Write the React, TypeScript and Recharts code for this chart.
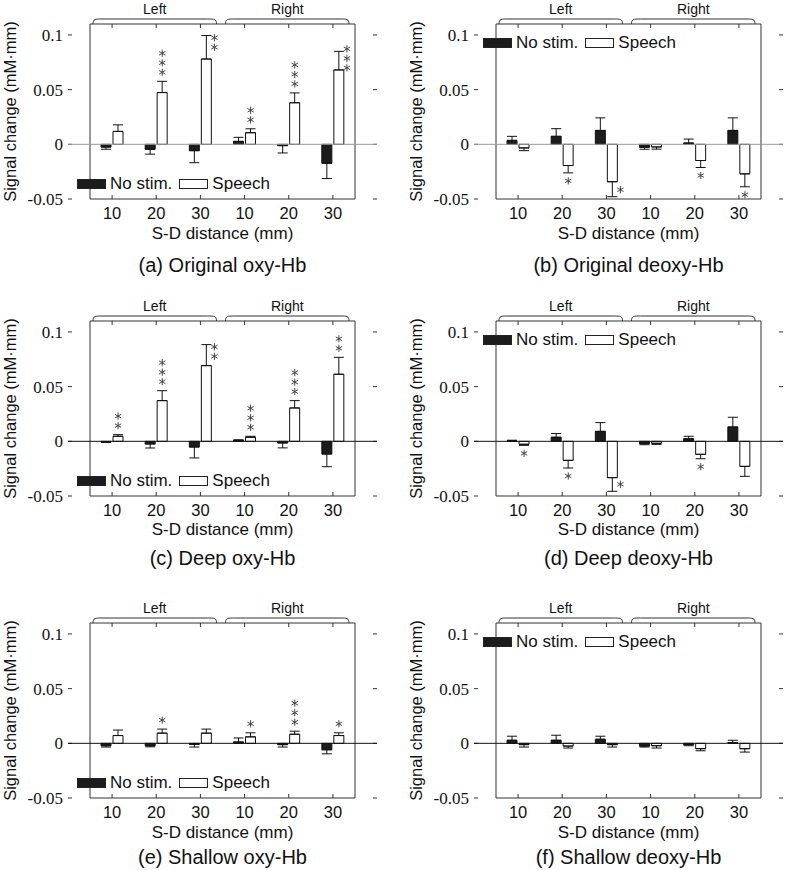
import React from 'react';
import {
  ComposedChart,
  Bar,
  ErrorBar,
  Scatter,
  XAxis,
  YAxis,
  ReferenceLine,
  ReferenceArea,
  Legend,
} from 'recharts';

const SANS = '"Liberation Sans", Arial, sans-serif';
const SERIF = '"Liberation Serif", "Times New Roman", serif';

// categories
const sides = ['Left', 'Right'];
const distances = [10, 20, 30];
const categoryKeys = sides.flatMap((s) => distances.map((d) => `${s}-${d}`));
const seriesNames = ['No stim.', 'Speech'];
const yTicks = [-0.05, 0, 0.05, 0.1];
const yDomain: [number, number] = [-0.05, 0.11];

// (a) Original oxy-Hb
const origOxyNoStim = [-0.0025, -0.0045, -0.0058, 0.0027, -0.0012, -0.0173];
const origOxyNoStimErr = [0.002, 0.0045, 0.011, 0.0037, 0.0067, 0.014];
const origOxySpeech = [0.0118, 0.0473, 0.078, 0.0106, 0.038, 0.068];
const origOxySpeechErr = [0.006, 0.0103, 0.0215, 0.0036, 0.009, 0.017];
const origOxyStars = [0, 3, 2, 2, 3, 3];
const origOxyBeside = [false, false, true, false, false, true];

// (b) Original deoxy-Hb
const origDeoxyNoStim = [0.0036, 0.0073, 0.0127, -0.0027, 0.0012, 0.0127];
const origDeoxyNoStimErr = [0.0037, 0.007, 0.0115, 0.0018, 0.0036, 0.0115];
const origDeoxySpeech = [-0.0033, -0.0194, -0.0342, -0.0024, -0.0148, -0.027];
const origDeoxySpeechErr = [0.0025, 0.0067, 0.0137, 0.002, 0.0064, 0.0118];
const origDeoxyStars = [0, 1, 1, 0, 1, 1];
const origDeoxyBeside = [false, false, true, false, false, false];

// (c) Deep oxy-Hb
const deepOxyNoStim = [-0.0005, -0.0024, -0.0052, 0.0009, -0.0015, -0.0116];
const deepOxyNoStimErr = [0.0005, 0.0037, 0.01, 0.0005, 0.0045, 0.0116];
const deepOxySpeech = [0.0046, 0.0372, 0.0692, 0.0037, 0.0305, 0.0613];
const deepOxySpeechErr = [0.0015, 0.0091, 0.0192, 0.0009, 0.0067, 0.0155];
const deepOxyStars = [2, 3, 2, 3, 3, 2];
const deepOxyBeside = [false, false, true, false, false, false];

// (d) Deep deoxy-Hb
const deepDeoxyNoStim = [0.0005, 0.0037, 0.0091, -0.0021, 0.0024, 0.0131];
const deepDeoxyNoStimErr = [0.0005, 0.0034, 0.008, 0.001, 0.0022, 0.0089];
const deepDeoxySpeech = [-0.0027, -0.0174, -0.0332, -0.0018, -0.0119, -0.0229];
const deepDeoxySpeechErr = [0.001, 0.007, 0.0125, 0.001, 0.004, 0.0091];
const deepDeoxyStars = [1, 1, 1, 0, 1, 0];
const deepDeoxyBeside = [false, false, true, false, false, false];

// (e) Shallow oxy-Hb
const shallowOxyNoStim = [-0.0022, -0.0022, -0.0009, 0.0012, -0.0012, -0.0059];
const shallowOxyNoStimErr = [0.0012, 0.001, 0.0025, 0.0037, 0.0022, 0.0037];
const shallowOxySpeech = [0.0071, 0.0093, 0.0093, 0.0059, 0.0083, 0.0071];
const shallowOxySpeechErr = [0.005, 0.0037, 0.0037, 0.0037, 0.0028, 0.0025];
const shallowOxyStars = [0, 1, 0, 1, 3, 1];
const shallowOxyBeside = [false, false, false, false, false, false];

// (f) Shallow deoxy-Hb
const shallowDeoxyNoStim = [0.0028, 0.0028, 0.0037, -0.0025, -0.0012, 0.0006];
const shallowDeoxyNoStimErr = [0.0037, 0.0046, 0.0028, 0.0009, 0.001, 0.0022];
const shallowDeoxySpeech = [-0.0012, -0.0025, -0.0012, -0.0022, -0.0049, -0.0049];
const shallowDeoxySpeechErr = [0.0022, 0.0018, 0.0022, 0.0021, 0.0019, 0.0031];
const shallowDeoxyStars = [0, 0, 0, 0, 0, 0];
const shallowDeoxyBeside = [false, false, false, false, false, false];

const panels = [
  { caption: '(a) Original oxy-Hb', noStim: origOxyNoStim, noStimErr: origOxyNoStimErr, speech: origOxySpeech, speechErr: origOxySpeechErr, stars: origOxyStars, beside: origOxyBeside, zero: '#9a9a9a', legendBottom: true },
  { caption: '(b) Original deoxy-Hb', noStim: origDeoxyNoStim, noStimErr: origDeoxyNoStimErr, speech: origDeoxySpeech, speechErr: origDeoxySpeechErr, stars: origDeoxyStars, beside: origDeoxyBeside, zero: '#9a9a9a', legendBottom: false },
  { caption: '(c) Deep oxy-Hb', noStim: deepOxyNoStim, noStimErr: deepOxyNoStimErr, speech: deepOxySpeech, speechErr: deepOxySpeechErr, stars: deepOxyStars, beside: deepOxyBeside, zero: '#111', legendBottom: true },
  { caption: '(d) Deep deoxy-Hb', noStim: deepDeoxyNoStim, noStimErr: deepDeoxyNoStimErr, speech: deepDeoxySpeech, speechErr: deepDeoxySpeechErr, stars: deepDeoxyStars, beside: deepDeoxyBeside, zero: '#111', legendBottom: false },
  { caption: '(e) Shallow oxy-Hb', noStim: shallowOxyNoStim, noStimErr: shallowOxyNoStimErr, speech: shallowOxySpeech, speechErr: shallowOxySpeechErr, stars: shallowOxyStars, beside: shallowOxyBeside, zero: '#111', legendBottom: true },
  { caption: '(f) Shallow deoxy-Hb', noStim: shallowDeoxyNoStim, noStimErr: shallowDeoxyNoStimErr, speech: shallowDeoxySpeech, speechErr: shallowDeoxySpeechErr, stars: shallowDeoxyStars, beside: shallowDeoxyBeside, zero: '#111', legendBottom: false },
];

const rowTops = [24, 321, 623]; // plot top of each row
const titleOffsets = [210, 209, 210]; // axis title centre below plot top
const captionOffsets = [241, 237, 234]; // caption centre below plot top
const colLefts = [0, 406];
const PLOT_TOP = 24;
const PLOT_H = 175;
const CHART_H = 297;
const Y_AXIS_W = 68;

const oneSided = (v: number, e: number) => (v >= 0 ? [0, e] : [e, 0]);

function buildRows(p) {
  return categoryKeys.map((key, i) => ({
    key,
    noStim: p.noStim[i],
    speech: p.speech[i],
    noStimErr: oneSided(p.noStim[i], p.noStimErr[i]),
    speechErr: oneSided(p.speech[i], p.speechErr[i]),
    tip: p.speech[i] + Math.sign(p.speech[i]) * p.speechErr[i],
    stars: p.stars[i],
    beside: p.beside[i],
    dir: p.speech[i] >= 0 ? 1 : -1,
  }));
}

const Asterisk = ({ x, y }) => {
  const r = 3.6;
  return (
    <g stroke="#444" strokeWidth={1}>
      {[90, 30, -30].map((a) => {
        const dx = r * Math.cos((a * Math.PI) / 180);
        const dy = r * Math.sin((a * Math.PI) / 180);
        return <line key={a} x1={x - dx} y1={y - dy} x2={x + dx} y2={y + dy} />;
      })}
    </g>
  );
};

const StarStack = (props) => {
  const { cx, cy, payload } = props;
  const n = payload?.stars || 0;
  if (!n || cx == null || cy == null) return <g />;
  const up = payload.dir > 0;
  const step = 9.5;
  const pts: [number, number][] = [];
  if (payload.beside) {
    const mid = cy + (up ? 7 : -7);
    for (let k = 0; k < n; k++) pts.push([cx + 14, mid + (k - (n - 1) / 2) * step]);
  } else {
    for (let k = 0; k < n; k++) pts.push([cx + 6, up ? cy - 9 - k * step : cy + 8 + k * step]);
  }
  return (
    <g>
      {pts.map(([x, y], k) => (
        <Asterisk key={k} x={x} y={y} />
      ))}
    </g>
  );
};

const Brace = ({ x, y, width, label }) => {
  const x0 = x + 3;
  const x1 = x + width - 6;
  const h = 5;
  const r = 9;
  const d = `M${x0},${y} C${x0},${y - h} ${x0 + 2},${y - h} ${x0 + r},${y - h} L${x1 - r},${y - h} C${x1 - 2},${y - h} ${x1},${y - h} ${x1},${y}`;
  return (
    <g>
      <path d={d} fill="none" stroke="#333" strokeWidth={1} />
      <text x={(x0 + x1) / 2} y={y - 10} textAnchor="middle" fontFamily={SANS} fontSize={14} fill="#111">
        {label}
      </text>
    </g>
  );
};

const YTickMarks = ({ x1, x2, y1 }) => {
  const l = Math.min(x1, x2);
  const r = Math.max(x1, x2);
  return (
    <g stroke="#333" strokeWidth={1}>
      <line x1={l} x2={l + 4} y1={y1} y2={y1} />
      <line x1={r - 4} x2={r} y1={y1} y2={y1} />
    </g>
  );
};

const XTickMarks = ({ x1, y1, y2 }) => {
  const t = Math.min(y1, y2);
  const b = Math.max(y1, y2);
  return (
    <g stroke="#333" strokeWidth={1}>
      <line x1={x1} x2={x1} y1={t} y2={t + 4} />
      <line x1={x1} x2={x1} y1={b - 4} y2={b} />
    </g>
  );
};

const LegendContent = ({ payload }) => (
  <div style={{ display: 'flex', alignItems: 'center', fontFamily: SANS, fontSize: 17, lineHeight: '20px', color: '#111', whiteSpace: 'nowrap' }}>
    {(payload || [])
      .filter((entry) => seriesNames.includes(entry.value))
      .map((entry, i) => (
        <React.Fragment key={i}>
          <span
            style={{
              display: 'inline-block',
              width: 29,
              height: 10,
              boxSizing: 'border-box',
              background: entry.color,
              border: '1px solid #222',
              marginRight: 4,
            }}
          />
          <span style={{ marginRight: 7 }}>{entry.value}</span>
        </React.Fragment>
      ))}
  </div>
);

function Panel({ p, index }) {
  const row = Math.floor(index / 2);
  const col = index % 2;
  const width = col === 0 ? 395 : 381;
  const marginRight = width - Y_AXIS_W - 309;
  const data = buildRows(p);
  const legendTop = p.legendBottom ? PLOT_TOP + PLOT_H - 15 - 10 : PLOT_TOP + 19 - 10;

  return (
    <div style={{ position: 'absolute', left: colLefts[col], top: rowTops[row] - PLOT_TOP, width, height: CHART_H }}>
      <ComposedChart
        width={width}
        height={CHART_H}
        data={data}
        margin={{ top: PLOT_TOP, right: marginRight, bottom: CHART_H - PLOT_TOP - PLOT_H - 30, left: 0 }}
        barSize={10}
        barGap={2}
      >
        <XAxis
          dataKey="key"
          interval={0}
          height={30}
          padding={{ left: 22, right: 22 }}
          tickLine={false}
          axisLine={false}
          tickSize={0}
          tickMargin={8}
          tickFormatter={(v, i) => String(distances[i % distances.length])}
          tick={{ fontSize: 16.5, fontFamily: SANS, fill: '#111' }}
        />
        <YAxis
          width={Y_AXIS_W}
          domain={yDomain}
          ticks={yTicks}
          allowDataOverflow
          tickLine={false}
          axisLine={false}
          tickSize={0}
          tickMargin={5}
          tickFormatter={(v) => String(v)}
          tick={{ fontSize: 17, fontFamily: SERIF, fill: '#111' }}
          label={{
            value: 'Signal change (mM·mm)',
            angle: -90,
            position: 'insideLeft',
            offset: 10,
            style: { textAnchor: 'middle', fontSize: 16.5, fontFamily: SANS, fill: '#111' },
          }}
        />
        <ReferenceArea y1={yDomain[0]} y2={yDomain[1]} fill="none" stroke="#333" strokeWidth={1} fillOpacity={0} />
        {sides.map((s) => (
          <ReferenceArea
            key={s}
            x1={`${s}-${distances[0]}`}
            x2={`${s}-${distances[distances.length - 1]}`}
            y1={yDomain[0]}
            y2={yDomain[1]}
            shape={(props) => <Brace {...props} label={s} />}
          />
        ))}
        {yTicks.map((t) => (
          <ReferenceLine key={t} y={t} shape={(props) => <YTickMarks {...props} />} />
        ))}
        {categoryKeys.map((k) => (
          <ReferenceLine key={k} x={k} shape={(props) => <XTickMarks {...props} />} />
        ))}
        <ReferenceLine y={0} stroke={p.zero} strokeWidth={1} />
        <Bar dataKey="noStim" name={seriesNames[0]} fill="#1c1c1c" stroke="#111" strokeWidth={1} isAnimationActive={false}>
          <ErrorBar dataKey="noStimErr" width={5} stroke="#111" strokeWidth={1} />
        </Bar>
        <Bar dataKey="speech" name={seriesNames[1]} fill="#ffffff" stroke="#111" strokeWidth={1} isAnimationActive={false}>
          <ErrorBar dataKey="speechErr" width={5} stroke="#111" strokeWidth={1} />
        </Bar>
        <Scatter dataKey="tip" legendType="none" isAnimationActive={false} shape={StarStack} />
        <Legend
          layout="vertical"
          align="center"
          verticalAlign="middle"
          wrapperStyle={{ left: 77, top: legendTop, width: 'auto' }}
          content={LegendContent}
        />
      </ComposedChart>
      <div
        style={{
          position: 'absolute',
          left: Y_AXIS_W,
          width: 309,
          top: PLOT_TOP + titleOffsets[row] - 9,
          lineHeight: '18px',
          fontSize: 17,
          fontFamily: SANS,
          color: '#111',
          textAlign: 'center',
          whiteSpace: 'nowrap',
        }}
      >
        S-D distance (mm)
      </div>
      <div
        style={{
          position: 'absolute',
          left: Y_AXIS_W,
          width: 309,
          top: PLOT_TOP + captionOffsets[row] - 11,
          lineHeight: '22px',
          fontSize: 20,
          fontFamily: SANS,
          color: '#111',
          textAlign: 'center',
          whiteSpace: 'nowrap',
        }}
      >
        {p.caption}
      </div>
    </div>
  );
}

export default function App() {
  return (
    <div style={{ position: 'absolute', left: 0, top: 0, width: 787, height: 870, background: '#fff', overflow: 'hidden' }}>
      {panels.map((p, i) => (
        <Panel key={p.caption} p={p} index={i} />
      ))}
    </div>
  );
}
